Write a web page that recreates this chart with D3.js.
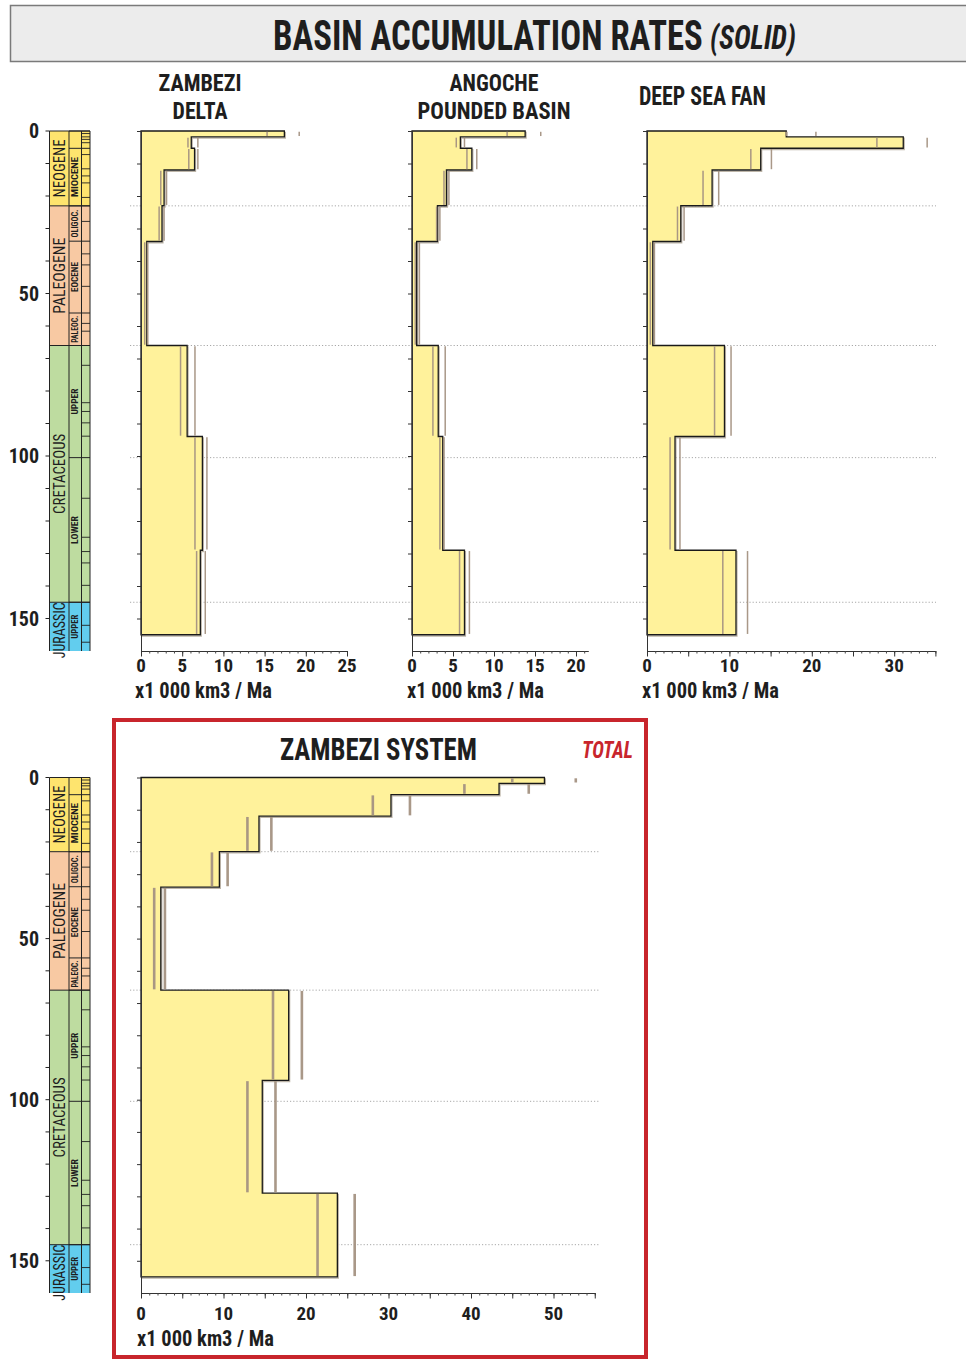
<!DOCTYPE html>
<html>
<head>
<meta charset="utf-8">
<script src="https://cdn.jsdelivr.net/npm/d3@7"></script>
<style>
  html, body { margin: 0; padding: 0; background: #fff; }
  svg text { font-family: "Liberation Sans Narrow", "Roboto Condensed", "DejaVu Sans Condensed", "Roboto", sans-serif; font-weight: bold; fill: #1e1e1e; }
</style>
</head>
<body>
<svg id="chart" width="966" height="1359"></svg>
<script>
// ---------------- DATA ----------------
// age boundaries of the accumulation intervals (Ma)
const ageBounds = [0, 1.8, 5.3, 12, 23, 34, 66, 94, 129, 155];

// Zambezi Delta (x1000 km3 / Ma)
const deltaRate = [17.4, 6.1, 6.5, 2.8, 2.55, 0.7, 5.6, 7.45, 7.2];
const deltaMin  = [15.3, 5.7, 5.8, 2.4, 2.2, 0.45, 4.8, 6.55, 6.75];
const deltaMax  = [19.2, 6.9, 6.9, 3.1, 2.8, 0.8, 6.55, 8.0, 7.8];

// Angoche Pounded Basin
const angocheRate = [13.8, 5.9, 7.3, 4.2, 3.1, 0.57, 3.2, 3.75, 6.4];
const angocheMin  = [11.6, 5.4, 6.7, 3.9, 3.0, 0.4, 2.55, 3.4, 5.8];
const angocheMax  = [15.7, 6.4, 7.9, 4.5, 3.4, 0.9, 4.05, 3.9, 7.0];

// Deep Sea Fan
const fanRate = [16.9, 31.1, 13.8, 7.9, 4.1, 0.7, 9.4, 3.4, 10.8];
const fanMin  = [16.9, 27.9, 12.6, 6.8, 3.7, 0.4, 8.2, 2.8, 9.2];
const fanMax  = [20.5, 34.0, 15.1, 8.7, 4.5, 0.9, 10.2, 4.0, 12.2];

// Zambezi System total
const totalRate = [48.9, 43.4, 30.3, 14.3, 9.5, 2.4, 17.9, 14.7, 23.8];
const totalMin  = [45.0, 39.2, 28.1, 12.9, 8.6, 1.6, 16.0, 12.9, 21.4];
const totalMax  = [52.7, 47.0, 32.6, 15.8, 10.5, 2.9, 19.5, 16.3, 25.9];

// geological time scale
const periodNames  = ["NEOGENE", "PALEOGENE", "CRETACEOUS", "JURASSIC"];
const periodStart  = [0, 23.03, 66, 145];
const periodEnd    = [23.03, 66, 145, 160];
const epochNames   = ["", "MIOCENE", "OLIGOC.", "EOCENE", "PALEOC.", "UPPER", "LOWER", "UPPER"];
const epochStart   = [0, 5.33, 23.03, 33.9, 56, 66, 100.5, 145];
const epochEnd     = [5.33, 23.03, 33.9, 56, 66, 100.5, 145, 160];
const epochPeriod  = [0, 0, 1, 1, 1, 2, 2, 3];
const stageBounds  = [0.78, 1.8, 2.58, 3.6, 7.25, 11.63, 13.82, 15.97, 20.44,
                      27.82, 37.8, 41.2, 47.8, 59.2, 61.6,
                      72.1, 83.6, 86.3, 89.8, 93.9, 113, 125, 129.4, 132.9, 139.8,
                      152.1, 157.3];
const ageLabels    = [0, 50, 100, 150];
const guideAges    = [23.03, 66, 100.5, 145];

// axis ticks
const deltaTicks   = [0, 5, 10, 15, 20, 25];
const angocheTicks = [0, 5, 10, 15, 20];
const fanTicks     = [0, 10, 20, 30];
const totalTicks   = [0, 10, 20, 30, 40, 50];

// ---------------- STYLE / LAYOUT ----------------
const periodColors = ["#FEE46E", "#F8C9A3", "#BEDCA0", "#62CDEE"];
const fillColor = "#FFF29B";
const rangeColor = "#A59382";
const red = "#C8252C";

const svg = d3.select("#chart");

// text squeezed horizontally to a target width (condensed look)
function label(x, y, txt, size, width, anchor, extra) {
  const t = svg.append("text").attr("x", 0).attr("y", 0).attr("font-size", size)
    .attr("text-anchor", anchor || "middle").text(txt);
  if (extra) extra(t);
  let sx = 1;
  if (width) {
    const L = t.node().getComputedTextLength();
    if (L > 0) sx = width / L;
  }
  t.attr("transform", `translate(${x},${y}) scale(${sx},1)`);
  return t;
}

// title box
svg.append("rect").attr("x", 10.5).attr("y", 5.5).attr("width", 980).attr("height", 56)
  .attr("fill", "#ececec").attr("stroke", "#7a7a7a").attr("stroke-width", 1.5);
label(273, 50, "BASIN ACCUMULATION RATES", 42, 430, "start");
label(710, 49, "(SOLID)", 33, 86, "start", t => t.attr("font-style", "italic"));

// ---------- time scale column ----------
function drawTimeScale(y) {
  const g = svg.append("g");
  const c0 = 49.5, c1 = 69, c2 = 81.5, c3 = 90;
  periodNames.forEach((n, i) => {
    g.append("rect").attr("x", c0).attr("y", y(periodStart[i])).attr("width", c1 - c0)
      .attr("height", y(periodEnd[i]) - y(periodStart[i])).attr("fill", periodColors[i]);
  });
  epochNames.forEach((n, i) => {
    g.append("rect").attr("x", c1).attr("y", y(epochStart[i])).attr("width", c3 - c1)
      .attr("height", y(epochEnd[i]) - y(epochStart[i])).attr("fill", periodColors[epochPeriod[i]]);
  });
  const ln = (x1, y1, x2, y2, w) => g.append("line").attr("x1", x1).attr("y1", y1).attr("x2", x2).attr("y2", y2)
    .attr("stroke", "#222").attr("stroke-width", w || 1);
  [c0, c1, c2, c3].forEach(c => ln(c, y(0), c, y(160), 1));
  periodStart.forEach(a => ln(c0, y(a), c3, y(a), 1));
  epochStart.forEach(a => ln(c1, y(a), c3, y(a), 1));
  stageBounds.forEach(a => ln(c2, y(a), c3, y(a), 0.9));
  d3.range(0, 151, 10).forEach(a => ln(c0 - 4, y(a), c0, y(a), 1));
  const lens = [58, 76, 80, 56];
  periodNames.forEach((n, i) => {
    const mid = (y(periodStart[i]) + y(Math.min(periodEnd[i], 160))) / 2;
    let cy = mid;
    if (i === 3) cy = y(145) + 28;
    g.append("text").attr("transform", `translate(${(c0 + c1) / 2 + 5.5},${cy}) rotate(-90)`)
      .attr("text-anchor", "middle").attr("font-size", 16).style("font-weight", "normal")
      .attr("textLength", lens[i]).attr("lengthAdjust", "spacingAndGlyphs").text(n);
  });
  const elens = [0, 40, 28, 30, 27, 26, 28, 24];
  epochNames.forEach((n, i) => {
    if (!n) return;
    let cy = (y(epochStart[i]) + y(epochEnd[i])) / 2;
    if (i === 7) cy = y(152.5);
    g.append("text").attr("transform", `translate(${(c1 + c2) / 2 + 3},${cy}) rotate(-90)`)
      .attr("text-anchor", "middle").attr("font-size", 8.5)
      .attr("textLength", elens[i]).attr("lengthAdjust", "spacingAndGlyphs").text(n);
  });
  ageLabels.forEach(a => {
    g.append("text").attr("x", 39).attr("y", y(a) + 7).attr("text-anchor", "end")
      .attr("font-size", 20).text(a);
  });
}

// ---------- a panel ----------
function drawPanel(cfg) {
  const { x, y, rate, lo, hi, ticks, guideX0, guideX1, rangeW, titleX, titleW, tickY, titleY } = cfg;
  const g = svg.append("g");
  guideAges.forEach(a => {
    g.append("line").attr("x1", guideX0).attr("x2", guideX1).attr("y1", y(a)).attr("y2", y(a))
      .attr("stroke", "#a8a8a8").attr("stroke-width", 1).attr("stroke-dasharray", "1.2,2");
  });
  const pts = [[0, ageBounds[0]]];
  rate.forEach((v, i) => { pts.push([v, ageBounds[i]]); pts.push([v, ageBounds[i + 1]]); });
  pts.push([0, ageBounds[ageBounds.length - 1]]);
  const line = d3.line().x(d => x(d[0])).y(d => y(d[1]));
  g.append("path").attr("d", line(pts) + "Z").attr("fill", "none")
    .attr("stroke", "#bdb5a8").attr("stroke-width", 1.2).attr("transform", "translate(1,1.3)");
  g.append("path").attr("d", line(pts) + "Z").attr("fill", fillColor)
    .attr("stroke", "#1a1a1a").attr("stroke-width", 1.3).attr("stroke-linejoin", "miter");
  const ranges = [];
  rate.forEach((v, i) => { ranges.push([lo[i], i]); ranges.push([hi[i], i]); });
  g.selectAll(null).data(ranges).enter().append("line")
    .attr("x1", d => x(d[0])).attr("x2", d => x(d[0]))
    .attr("y1", d => y(ageBounds[d[1]]) + 0.8).attr("y2", d => y(ageBounds[d[1] + 1]) - 0.8)
    .attr("stroke", rangeColor).attr("stroke-width", rangeW).attr("opacity", 0.95);
  const yAxis = d3.axisLeft(y).tickValues(d3.range(0, 151, 10)).tickSize(4).tickSizeOuter(0).tickFormat("");
  const ya = g.append("g").attr("transform", `translate(${x(0)},0)`).call(yAxis);
  ya.select(".domain").attr("stroke", "#333");
  ya.selectAll(".tick line").attr("stroke", "#333");
  const xmax = x.domain()[1];
  const xb = y(160);
  const minor = d3.axisBottom(x).tickValues(d3.range(0, xmax + 0.001, 1)).tickSize(2.5).tickSizeOuter(0).tickFormat("");
  const xa = g.append("g").attr("transform", `translate(0,${xb})`).call(minor);
  xa.select(".domain").attr("stroke", "#333").attr("stroke-width", 1.1);
  xa.selectAll(".tick line").attr("stroke", "#444");
  const major = d3.axisBottom(x).tickValues(d3.range(0, xmax + 0.001, 5)).tickSize(5.5).tickSizeOuter(0).tickFormat("");
  const xm = g.append("g").attr("transform", `translate(0,${xb})`).call(major);
  xm.select(".domain").remove();
  xm.selectAll(".tick line").attr("stroke", "#333");
  g.selectAll(null).data(ticks).enter().append("text")
    .attr("x", d => x(d)).attr("y", tickY).attr("text-anchor", "middle")
    .attr("font-size", 19).text(d => d);
  label(titleX, titleY, "x1 000 km3 / Ma", 22, titleW, "start");
}

// ---------- top row ----------
const yTop = d3.scaleLinear().domain([0, 160]).range([131, 651]);
drawTimeScale(yTop);

const xDelta = d3.scaleLinear().domain([0, 25]).range([141, 141 + 25 * 8.24]);
const xAng = d3.scaleLinear().domain([0, 21.5]).range([412, 412 + 21.5 * 8.2]);
const xFan = d3.scaleLinear().domain([0, 35]).range([647, 647 + 35 * 8.24]);

drawPanel({ x: xDelta, y: yTop, rate: deltaRate, lo: deltaMin, hi: deltaMax, ticks: deltaTicks,
  guideX0: 130, guideX1: 412, rangeW: 1.5, titleX: 135, titleW: 137, tickY: 672, titleY: 698 });
drawPanel({ x: xAng, y: yTop, rate: angocheRate, lo: angocheMin, hi: angocheMax, ticks: angocheTicks,
  guideX0: 412, guideX1: 647, rangeW: 1.5, titleX: 407, titleW: 137, tickY: 672, titleY: 698 });
drawPanel({ x: xFan, y: yTop, rate: fanRate, lo: fanMin, hi: fanMax, ticks: fanTicks,
  guideX0: 647, guideX1: 936, rangeW: 1.5, titleX: 642, titleW: 137, tickY: 672, titleY: 698 });

label(200, 90.5, "ZAMBEZI", 24, 83);
label(200, 119, "DELTA", 24, 55);
label(494, 90.5, "ANGOCHE", 24, 89);
label(494, 119, "POUNDED BASIN", 24, 153);
label(639, 105, "DEEP SEA FAN", 26, 127, "start");

// ---------- bottom: Zambezi system ----------
svg.append("rect").attr("x", 114).attr("y", 720).attr("width", 532).attr("height", 637)
  .attr("fill", "none").attr("stroke", red).attr("stroke-width", 4);

const yBot = d3.scaleLinear().domain([0, 160]).range([777.5, 1293]);
drawTimeScale(yBot);
const xTot = d3.scaleLinear().domain([0, 55]).range([141, 141 + 55 * 8.25]);
drawPanel({ x: xTot, y: yBot, rate: totalRate, lo: totalMin, hi: totalMax, ticks: totalTicks,
  guideX0: 130, guideX1: 599, rangeW: 2.6, titleX: 137, titleW: 137, tickY: 1320, titleY: 1346 });

label(378.5, 760, "ZAMBEZI SYSTEM", 32, 197);
label(582, 758, "TOTAL", 24, 51, "start", t => t.attr("font-style", "italic").style("fill", red));
</script>
</body>
</html>
